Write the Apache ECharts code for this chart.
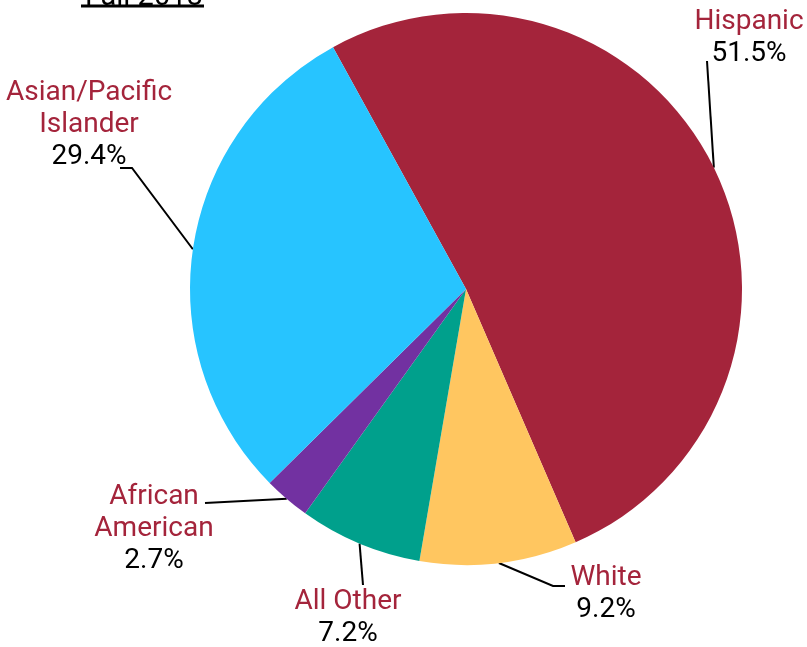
<!DOCTYPE html>
<html>
<head>
<meta charset="utf-8">
<script src="https://cdn.jsdelivr.net/npm/echarts@6/dist/echarts.min.js"></script>
<style>
  html, body { margin: 0; padding: 0; background: #fff; }
  #chart { width: 807px; height: 647px; }
</style>
</head>
<body>
<div id="chart"></div>
<script>
// data, clockwise from the top
const categories = ['Hispanic', 'White', 'All Other', 'African American', 'Asian/Pacific Islander'];
const labelNames = ['Hispanic', 'White', 'All Other', 'African\nAmerican', 'Asian/Pacific\nIslander'];
const shares = [51.5, 9.2, 7.2, 2.7, 29.4];
const colors = ['#A4243B', '#FFC660', '#00A08C', '#7231A1', '#27C4FF'];

// where each label block sits, and the bend of its leader line
const labelSpots = [
  { x: 749, y: 38, line: [[707, 61], [707, 61]] },
  { x: 606, y: 594, line: [[553, 586], [565, 586]] },
  { x: 348, y: 618, line: [[363, 585], [363, 585]] },
  { x: 154, y: 529, line: [[205, 503], [205, 503]] },
  { x: 89, y: 125, line: [[132, 168], [120, 168]] }
];

const myChart = echarts.init(document.getElementById('chart'));
myChart.setOption({
  animation: false,
  title: {
    text: 'Fall 2018',
    left: 80,
    top: -22,
    textStyle: { fontFamily: 'Roboto', fontSize: 29, fontWeight: 'normal', color: '#000' }
  },
  graphic: [{
    type: 'line',
    shape: { x1: 81, y1: 6, x2: 204, y2: 6 },
    style: { stroke: '#000', lineWidth: 3 }
  }],
  series: [{
    type: 'pie',
    center: [466, 289],
    radius: 276,
    startAngle: 118.8,
    clockwise: true,
    data: categories.map((name, i) => ({
      name: name,
      value: shares[i],
      itemStyle: { color: colors[i] }
    })),
    label: {
      show: true,
      position: 'outside',
      overflow: 'none',
      formatter: (p) => '{n|' + labelNames[p.dataIndex] + '}\n{v|' + p.value.toFixed(1) + '%}',
      rich: {
        n: { fontFamily: 'Roboto', fontSize: 28, lineHeight: 32, color: '#A4243B', align: 'center' },
        v: { fontFamily: 'Roboto', fontSize: 28, lineHeight: 32, color: '#000', align: 'center' }
      }
    },
    labelLine: {
      show: true,
      length: 20,
      length2: 10,
      lineStyle: { color: '#000', width: 2 }
    },
    labelLayout: (params) => {
      const s = labelSpots[params.dataIndex];
      const start = params.labelLinePoints[0];
      return {
        x: s.x,
        y: s.y,
        align: 'center',
        verticalAlign: 'middle',
        labelLinePoints: [start, s.line[0], s.line[1]]
      };
    },
    emphasis: { disabled: true }
  }]
});
</script>
</body>
</html>
